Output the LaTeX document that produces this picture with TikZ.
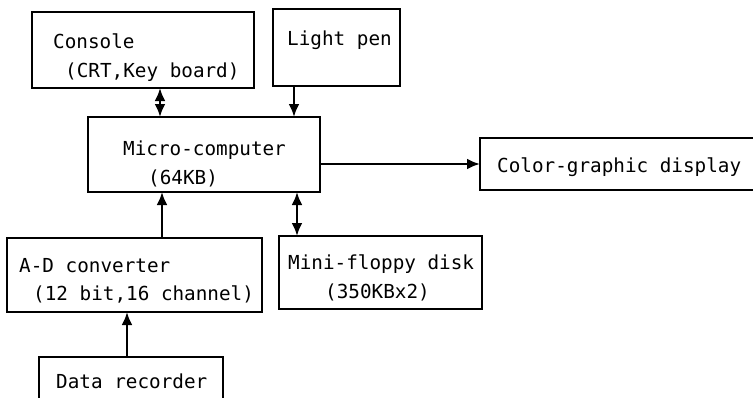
\documentclass[tikz,border=0pt]{standalone}
\usepackage{fontspec}
\setmonofont{DejaVu Sans Mono}
\usetikzlibrary{arrows.meta}

\begin{document}
\begin{tikzpicture}[x=1pt, y=-1pt,
  box/.style={draw, line width=2.6pt, inner sep=0pt, outer sep=0pt, anchor=north west},
  txt/.style={inner sep=0pt, anchor=base west, font=\ttfamily\fontsize{19.3}{29}\selectfont},
  arr/.style={line width=2.4pt, -{Latex[length=13pt, width=11pt]}},
  dbl/.style={line width=2.4pt, {Latex[length=13pt, width=11pt]}-{Latex[length=13pt, width=11pt]}}]
\clip (0,0) rectangle (753,397);
\fill[white] (0,0) rectangle (753,397);
% blocks
\node[box, minimum width=222pt, minimum height=76pt] (console) at (32,12) {};
\node[box, minimum width=127pt, minimum height=77pt] (lightpen) at (273,9) {};
\node[box, minimum width=232pt, minimum height=75pt] (micro) at (88,117) {};
\node[box, minimum width=300pt, minimum height=52pt] (display) at (480,138) {};
\node[box, minimum width=255pt, minimum height=74pt] (adconv) at (7,238) {};
\node[box, minimum width=203pt, minimum height=73pt] (floppy) at (279,236) {};
\node[box, minimum width=184pt, minimum height=63pt] (recorder) at (39,357) {};
% texts
\node[txt] (console-a) at (53,48) {Console};
\node[txt] (console-b) at (65,77) {(CRT,Key board)};
\node[txt] (lightpen-a) at (287,45) {Light pen};
\node[txt] (micro-a) at (123,155) {Micro-computer};
\node[txt] (micro-b) at (148,184) {(64KB)};
\node[txt] (display-a) at (497,172) {Color-graphic display};
\node[txt] (adconv-a) at (19,272) {A-D converter};
\node[txt] (adconv-b) at (33,300) {(12 bit,16 channel)};
\node[txt] (floppy-a) at (288,269) {Mini-floppy disk};
\node[txt] (floppy-b) at (325,298) {(350KBx2)};
\node[txt] (recorder-a) at (56,388) {Data recorder};
% links
\draw[dbl] ([xshift=128pt]console.south west) -- ([xshift=128pt]console.south west |- micro.north);
\draw[arr] ([xshift=21pt]lightpen.south west) -- ([xshift=21pt]lightpen.south west |- micro.north);
\draw[arr] (micro.east |- display.west) -- (display.west);
\draw[arr] ([xshift=155pt]adconv.north west) -- ([xshift=155pt]adconv.north west |- micro.south);
\draw[dbl] ([xshift=18pt]floppy.north west) -- ([xshift=18pt]floppy.north west |- micro.south);
\draw[arr] ([xshift=88pt]recorder.north west) -- ([xshift=88pt]recorder.north west |- adconv.south);
\end{tikzpicture}
\end{document}
